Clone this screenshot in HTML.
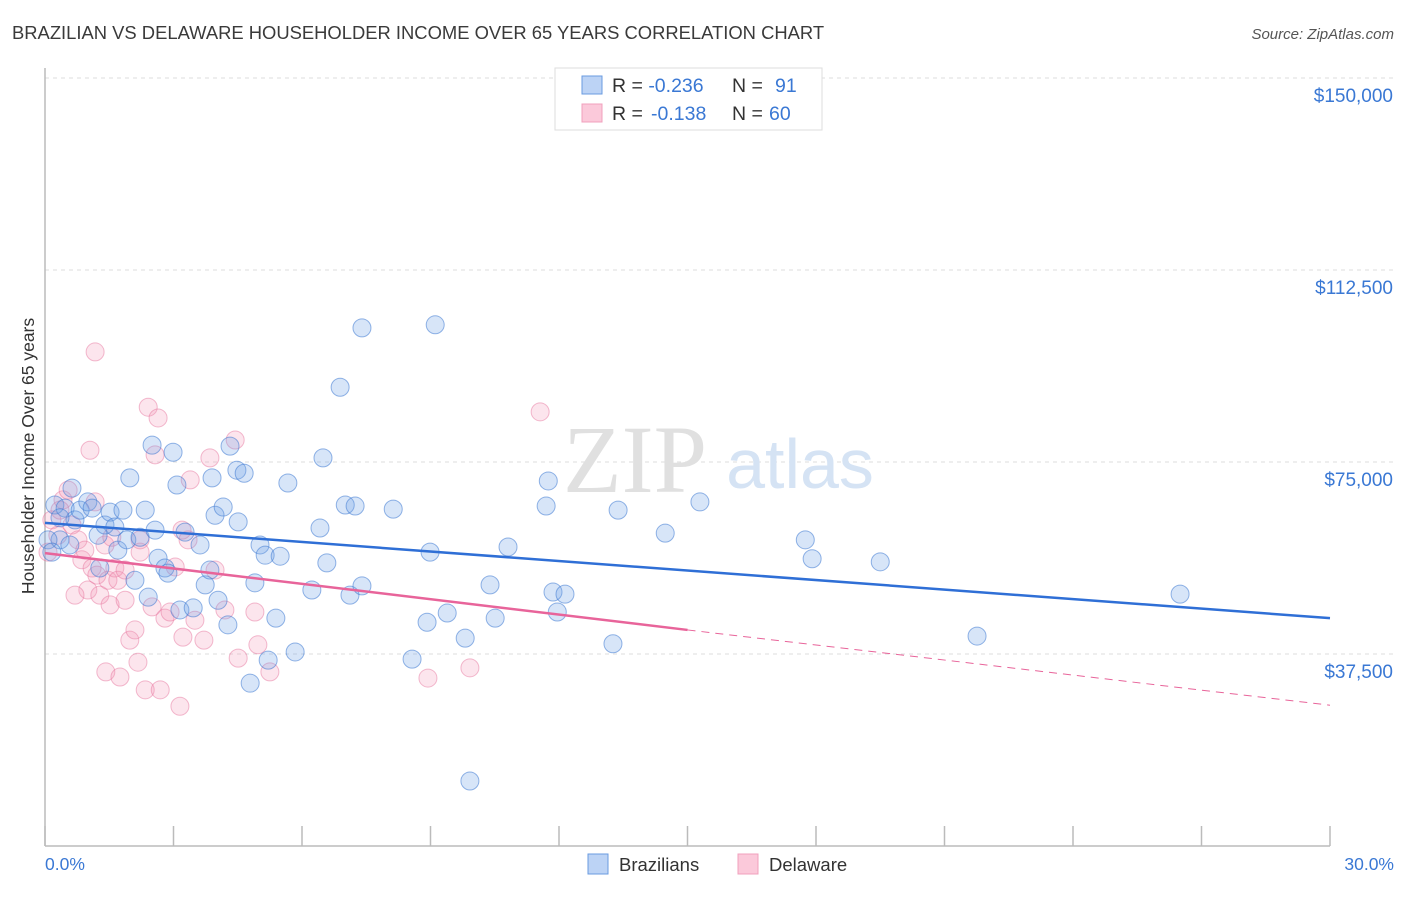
<!DOCTYPE html>
<html><head><meta charset="utf-8"><style>
body{margin:0;background:#fff;font-family:"Liberation Sans",sans-serif}
svg text{font-family:"Liberation Sans",sans-serif}
</style></head><body>
<svg id="chart" width="1406" height="892">
<text x="12" y="39" font-size="18.4" fill="#3a3a3a">BRAZILIAN VS DELAWARE HOUSEHOLDER INCOME OVER 65 YEARS CORRELATION CHART</text>
<text x="1394" y="39" font-size="15" fill="#555" font-style="italic" text-anchor="end">Source: ZipAtlas.com</text>
<g id="grid"></g>
<text x="635" y="492" font-size="96" fill="#e0e0e0" text-anchor="middle" style="font-family:'Liberation Serif',serif">ZIP</text>
<text x="800" y="488" font-size="70" fill="#d5e3f4" text-anchor="middle">atlas</text>
<line x1="45" y1="68" x2="45" y2="846" stroke="#bbb" stroke-width="1.5"/>
<line x1="45" y1="846" x2="1330" y2="846" stroke="#bbb" stroke-width="1.5"/>
<g id="xticks"></g>
<g id="ylabels"></g>
<text transform="translate(34,456) rotate(-90)" font-size="17.5" fill="#333" text-anchor="middle">Householder Income Over 65 years</text>
<text x="45" y="870" font-size="17.5" fill="#3a78d4">0.0%</text>
<text x="1394" y="870" font-size="17.5" fill="#3a78d4" text-anchor="end">30.0%</text>
<g id="pinkpts"></g>
<g id="bluepts"></g>
<g id="trends"></g>
<g>
<rect x="555" y="68" width="267" height="62" fill="#fff" stroke="#ddd"/>
<rect x="582" y="76" width="20" height="18" fill="#bcd3f5" stroke="#6a9be0"/>
<rect x="582" y="104" width="20" height="18" fill="#fbc9da" stroke="#f0a0bc"/>
<text x="612" y="92" font-size="19.5" fill="#333">R = <tspan fill="#3a78d4">-0.236</tspan><tspan x="732">N = </tspan><tspan fill="#3a78d4" x="775">91</tspan></text>
<text x="612" y="120" font-size="19.5" fill="#333">R = <tspan fill="#3a78d4" x="651">-0.138</tspan><tspan x="732">N = </tspan><tspan fill="#3a78d4" x="769">60</tspan></text>
</g>
<g>
<rect x="588" y="854" width="20" height="20" fill="#bcd3f5" stroke="#6a9be0"/>
<text x="619" y="871" font-size="18.5" fill="#333">Brazilians</text>
<rect x="738" y="854" width="20" height="20" fill="#fbc9da" stroke="#f0a0bc"/>
<text x="769" y="871" font-size="18.5" fill="#333">Delaware</text>
</g>
</svg>
<script>
const yTicks=[37500,75000,112500,150000];
const yTickLabels=["$37,500","$75,000","$112,500","$150,000"];
const xTicks=[0,3,6,9,12,15,18,21,24,27,30];
const bluePct=[0.23,0.35,0.47,0.63,0.70,0.82,1.00,1.10,1.24,1.40,1.52,1.63,1.70,1.82,1.91,1.98,2.10,2.22,2.34,2.41,2.50,2.57,2.64,2.80,2.87,2.99,3.08,3.15,3.27,3.46,3.62,3.74,3.85,3.90,3.97,4.04,4.16,4.27,4.32,4.48,4.51,4.65,4.79,4.90,5.02,5.14,5.21,5.39,5.49,5.67,5.84,6.23,6.42,6.49,6.58,6.89,7.01,7.12,7.24,7.40,7.40,8.13,8.57,8.92,8.99,9.11,9.39,9.81,9.92,10.39,10.51,10.81,11.70,11.75,11.86,11.96,12.14,13.26,13.38,14.48,15.29,17.75,17.91,19.50,21.76,26.50,0.07,0.16,0.35,1.28,0.58];
const blueInc=[66.6,59.8,66.0,69.9,63.7,65.6,67.2,66.0,60.7,62.7,65.2,62.3,57.8,65.6,59.8,71.9,51.9,60.3,65.6,48.6,78.3,61.7,56.2,54.3,53.3,76.9,70.5,46.1,61.3,46.5,58.8,51.0,53.9,71.9,64.6,48.0,66.2,43.2,78.1,73.4,63.3,72.8,31.8,51.4,58.8,56.8,36.3,44.5,56.6,70.9,37.9,50.0,62.1,75.8,55.3,89.6,66.6,49.0,66.4,101.2,50.8,65.8,36.5,43.7,57.4,101.8,45.5,40.6,12.7,51.0,44.5,58.4,66.4,71.3,49.6,45.7,49.2,39.5,65.6,61.1,67.2,59.8,56.1,55.5,41.0,49.2,59.8,57.4,64.1,54.3,58.8];
const pinkPct=[0.07,0.16,0.30,0.42,0.54,0.63,0.77,0.86,0.93,1.00,1.05,1.10,1.17,1.21,1.28,1.40,1.47,1.52,1.56,1.63,1.70,1.87,1.98,2.10,2.17,2.22,2.34,2.41,2.50,2.57,2.64,2.69,2.80,2.92,3.04,3.15,3.22,3.34,3.39,3.50,3.71,3.85,3.97,4.20,4.44,4.51,4.90,4.97,5.25,8.94,9.92,11.56,1.42,1.75,1.17,0.35,0.70,2.22,1.87,3.20];
const pinkInc=[57.4,63.7,60.7,67.6,69.5,62.7,59.8,55.9,57.8,50.0,77.3,54.3,96.5,52.9,49.0,58.8,51.9,47.1,60.3,54.3,51.9,53.9,40.2,42.2,35.9,57.4,30.5,85.7,46.7,76.4,83.6,30.5,44.5,45.7,54.5,27.3,40.8,59.8,71.5,44.1,40.2,75.8,53.9,46.1,79.3,36.7,45.7,39.3,34.0,32.8,34.8,84.8,34.0,33.0,67.2,65.6,49.0,59.8,48.0,61.7];
const blueTrendPct=[0,30];
const blueTrendInc=[63.1,44.5];
const pinkTrendPct=[0,15,30];
const pinkTrendInc=[57.2,42.2,27.5];
const NS='http://www.w3.org/2000/svg';
const xs=p=>45+p/30*1285;
const ys=v=>846-v/37500*192;
const yk=k=>ys(k*1000);
function mk(tag,attrs,parent){const e=document.createElementNS(NS,tag);for(const k in attrs)e.setAttribute(k,attrs[k]);parent.appendChild(e);return e;}
const grid=document.getElementById('grid'),yl=document.getElementById('ylabels');
yTicks.forEach((v,i)=>{
 const l=mk('line',{x1:45,x2:1394,y1:ys(v),y2:ys(v),stroke:'#ddd','stroke-dasharray':'4,4'},grid);
 
 
 const t=mk('text',{x:1393,y:ys(v)+24,'font-size':19,fill:'#3a78d4','text-anchor':'end'},yl);
 t.textContent=yTickLabels[i];
 
 
});
const xt=document.getElementById('xticks');
xTicks.forEach(p=>{
 const l=mk('line',{x1:xs(p),x2:xs(p),y1:826,y2:846,stroke:'#bbb','stroke-width':1.5},xt);
 
 
});
function pts(px,inc,g,fill,stroke,name){
 px.forEach((p,i)=>{
  const c=mk('circle',{cx:xs(p),cy:yk(inc[i]),r:9,fill:fill,stroke:stroke,'stroke-width':1},g);
  
  
 });
}
pts(pinkPct,pinkInc,document.getElementById('pinkpts'),'rgba(242,150,182,0.25)','rgba(232,120,160,0.5)','delaware-point');
pts(bluePct,blueInc,document.getElementById('bluepts'),'rgba(110,160,230,0.28)','rgba(60,120,210,0.55)','brazilian-point');
const tr=document.getElementById('trends');
const bl=mk('line',{x1:xs(blueTrendPct[0]),y1:yk(blueTrendInc[0]),x2:xs(blueTrendPct[1]),y2:yk(blueTrendInc[1]),stroke:'#2f6fd6','stroke-width':2.5},tr);


const pl=mk('line',{x1:xs(pinkTrendPct[0]),y1:yk(pinkTrendInc[0]),x2:xs(pinkTrendPct[1]),y2:yk(pinkTrendInc[1]),stroke:'#e8649a','stroke-width':2.5},tr);


const pd=mk('line',{x1:xs(pinkTrendPct[1]),y1:yk(pinkTrendInc[1]),x2:xs(pinkTrendPct[2]),y2:yk(pinkTrendInc[2]),stroke:'#e8649a','stroke-width':1,'stroke-dasharray':'8,6'},tr);


</script>
</body></html>
